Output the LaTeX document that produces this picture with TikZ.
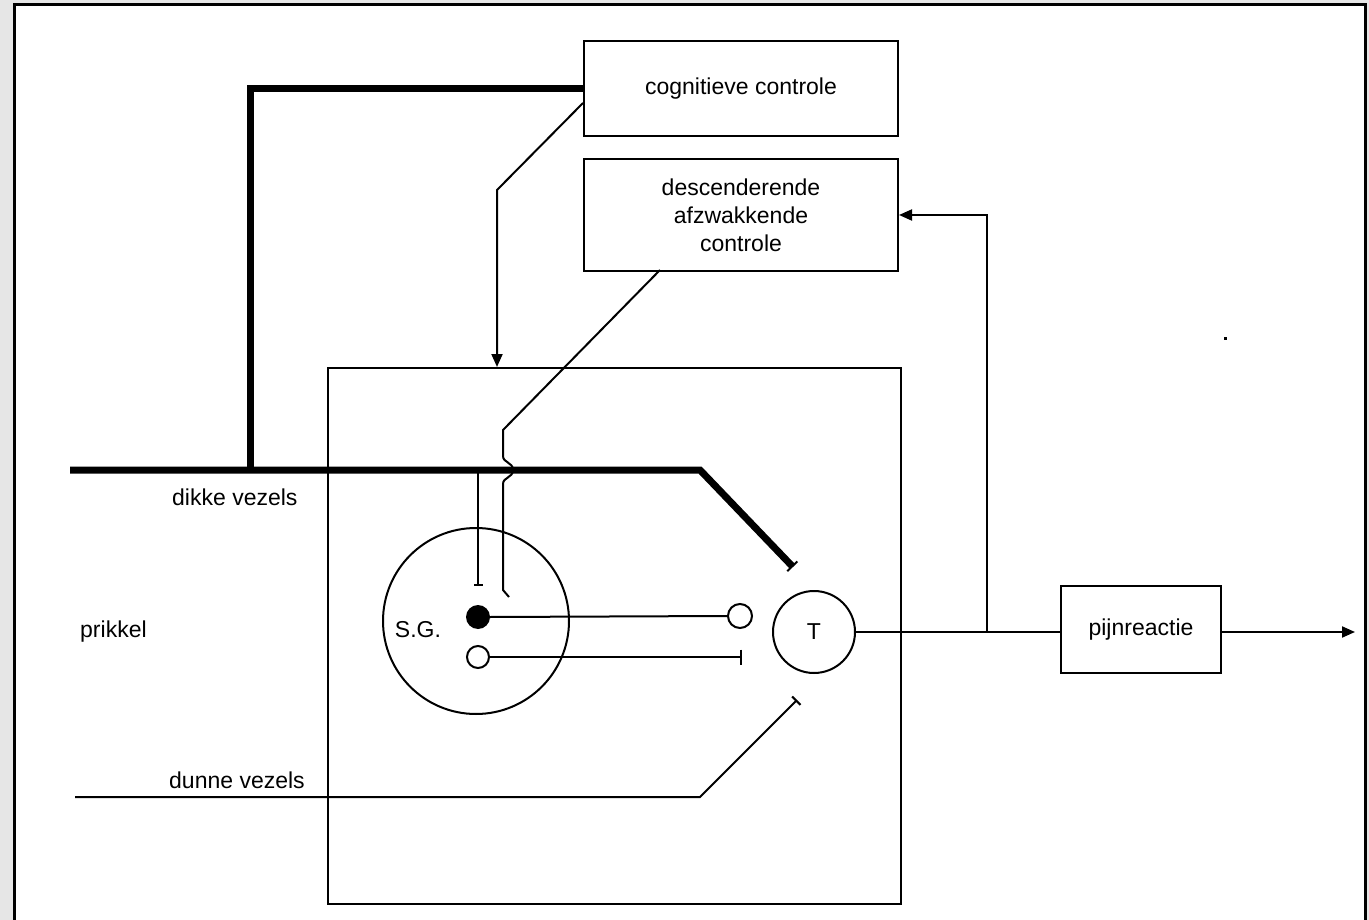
\documentclass[tikz,border=0pt]{standalone}
\usepackage{fontspec}
\setmainfont{Liberation Sans}
\usetikzlibrary{arrows.meta}
\definecolor{bggray}{HTML}{E6E6E6}
\begin{document}
\begin{tikzpicture}[x=1pt,y=-1pt,
  box/.style={draw, line width=2pt, inner sep=0pt, anchor=north west, font=\fontsize{23}{28}\selectfont, align=center},
  thinln/.style={line width=2pt},
  thickln/.style={line width=7pt},
  lbl/.style={font=\fontsize{23}{27}\selectfont, inner sep=0pt},
  tip/.style={-{Triangle[length=13pt,width=11pt]}},
  barend/.style={-{Bar[width=#1, line width=2pt]}},
  ring/.style={circle, draw, line width=2pt, inner sep=0pt},
  ]
\useasboundingbox (0,0) rectangle (1369,920);
\fill[bggray] (0,0) rectangle (1369,920);
\fill[white] (14.5,5) rectangle (1365,925);
\draw[line width=3pt] (14.5,925) -- (14.5,5) -- (1365,5) -- (1365,925);

% boxes
\node[box, minimum width=314pt, minimum height=95pt] (cog) at (583,40) {cognitieve controle};
\node[box, minimum width=314pt, minimum height=112pt] (desc) at (583,158) {descenderende\\afzwakkende\\controle};
\node[box, minimum width=573pt, minimum height=536pt] (big) at (327,367) {};
\node[box, minimum width=160pt, minimum height=87pt] (pijn) at (1060,585) {pijnreactie};

% circles
\node[ring, minimum size=186pt] (sg) at (476,621) {};
\node[ring, minimum size=82pt, font=\fontsize{23}{27}\selectfont] (T) at (814,632) {T};
\node[circle, fill=black, inner sep=0pt, minimum size=24pt] (dot) at (478,617) {};
\node[ring, minimum size=22pt] (odot) at (478,657) {};
\node[ring, minimum size=24pt] (oc) at (740,616) {};

% labels
\node[lbl] (sglbl) at (418,630) {S.G.};
\node[lbl, anchor=west] (dikke) at (172,497) {dikke vezels};
\node[lbl, anchor=west] (prik) at (80,632) {prikkel};
\node[lbl, anchor=west] (dunne) at (169,780) {dunne vezels};

% coordinates
\coordinate (dkL) at (70,470);
\coordinate (dkK) at (700,470);
\coordinate (dkE) at (793,567);
\coordinate (dkV) at (250,470);
\coordinate (c1) at (583,103);
\coordinate (c2) at (497,190);
\coordinate (c3) at (497,367);
\coordinate (d1) at (660,270);
\coordinate (d2) at (503,430);
\coordinate (d3) at (503,456);
\coordinate (d4) at (503,484);
\coordinate (d5) at (503,590);
\coordinate (d6) at (509,597);
\coordinate (v1) at (478,470);
\coordinate (v2) at (478,586);
\coordinate (lb) at (742,657);
\coordinate (br) at (987,632);
\coordinate (out) at (1355,632);
\coordinate (dn1) at (75,797);
\coordinate (dn2) at (700,797);
\coordinate (dn3) at (797,700);

% thick fibres
\draw[thickln] (dkV) -- (dkV |- cog.west) -- (cog.west);
\draw[thickln, barend=14pt] (dkL) -- (dkK) -- (dkE);

% cognitive control to gate
\draw[thinln, tip] (c1) -- (c2) -- (c3);

% descending control
\draw[thinln] (d1) -- (d2) -- (d3) .. controls (503,463) and (513,462) .. (513,470) .. controls (513,478) and (503,477) .. (d4) -- (d5) -- (d6);

% gate internals
\draw[thinln, barend=9pt] (v1) -- (v2);
\draw[thinln] (dot.east) -- (oc.west);
\draw[thinln, barend=15pt] (odot.east) -- (lb);

% thin fibres
\draw[thinln, barend=12pt] (dn1) -- (dn2) -- (dn3);

% output
\draw[thinln] (T.east) -- (T.east -| pijn.west);
\draw[thinln, tip] (br) -- (br |- desc.east) -- (desc.east);
\draw[thinln, tip] (pijn.east |- out) -- (out);

\fill (1224,337) rectangle (1227,340);
\end{tikzpicture}
\end{document}
